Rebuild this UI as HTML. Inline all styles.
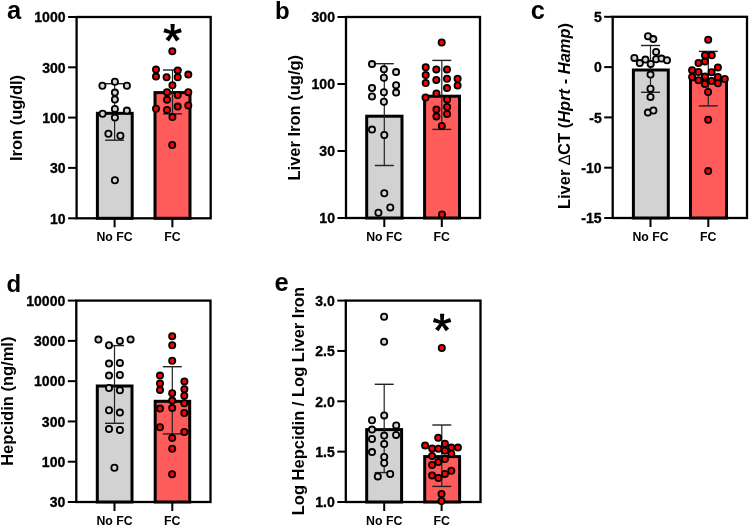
<!DOCTYPE html>
<html><head><meta charset="utf-8"><style>
html,body{margin:0;padding:0;background:#fff;}
body{width:749px;height:526px;overflow:hidden;}
svg{display:block;will-change:transform;}
text{font-family:"Liberation Sans", sans-serif;font-weight:bold;fill:#000;}
.tk{font-size:15.3px;stroke:#000;stroke-width:0.35px;}
.xl{font-size:12.3px;}
.ti{font-size:16.5px;}
.pl{font-size:24px;}
</style></head><body>
<svg width="749" height="526" viewBox="0 0 749 526">
<text x="7" y="19.3" class="pl" style="font-size:25.5px">a</text>
<rect x="76.6" y="17" width="134.1" height="201.3" fill="none" stroke="#000" stroke-width="2.3"/>
<line x1="68.1" y1="17" x2="76.6" y2="17" stroke="#000" stroke-width="2"/>
<text transform="translate(65.6,22.3) scale(0.92,1)" text-anchor="end" class="tk">1000</text>
<line x1="68.1" y1="67.3" x2="76.6" y2="67.3" stroke="#000" stroke-width="2"/>
<text transform="translate(65.6,72.6) scale(0.92,1)" text-anchor="end" class="tk">300</text>
<line x1="68.1" y1="117.6" x2="76.6" y2="117.6" stroke="#000" stroke-width="2"/>
<text transform="translate(65.6,122.89999999999999) scale(0.92,1)" text-anchor="end" class="tk">100</text>
<line x1="68.1" y1="167.9" x2="76.6" y2="167.9" stroke="#000" stroke-width="2"/>
<text transform="translate(65.6,173.20000000000002) scale(0.92,1)" text-anchor="end" class="tk">30</text>
<line x1="68.1" y1="218.3" x2="76.6" y2="218.3" stroke="#000" stroke-width="2"/>
<text transform="translate(65.6,223.60000000000002) scale(0.92,1)" text-anchor="end" class="tk">10</text>
<line x1="114.6" y1="218.3" x2="114.6" y2="227.3" stroke="#000" stroke-width="2"/>
<text x="114.6" y="240.8" text-anchor="middle" class="xl">No FC</text>
<line x1="172.4" y1="218.3" x2="172.4" y2="227.3" stroke="#000" stroke-width="2"/>
<text x="172.4" y="240.8" text-anchor="middle" class="xl">FC</text>
<text transform="translate(22.1,118) rotate(-90)" text-anchor="middle" class="ti">Iron (ug/dl)</text>
<rect x="97.4" y="113.3" width="34.79999999999998" height="105.00000000000001" fill="#d2d2d2" stroke="#000" stroke-width="3"/>
<rect x="155" y="92.6" width="35" height="125.70000000000002" fill="#ff5b5b" stroke="#000" stroke-width="3"/>
<line x1="114.6" y1="83.7" x2="114.6" y2="140.2" stroke="#222" stroke-width="1.2"/>
<line x1="105.1" y1="83.7" x2="124.1" y2="83.7" stroke="#222" stroke-width="1.4"/>
<line x1="105.1" y1="140.2" x2="124.1" y2="140.2" stroke="#222" stroke-width="1.4"/>
<line x1="172.5" y1="70" x2="172.5" y2="113.9" stroke="#222" stroke-width="1.2"/>
<line x1="163.0" y1="70" x2="182.0" y2="70" stroke="#222" stroke-width="1.4"/>
<line x1="163.0" y1="113.9" x2="182.0" y2="113.9" stroke="#222" stroke-width="1.4"/>
<circle cx="114.9" cy="81.7" r="3.1" fill="#d4d4d4" stroke="#000" stroke-width="1.8"/>
<circle cx="102.4" cy="85.7" r="3.1" fill="#d4d4d4" stroke="#000" stroke-width="1.8"/>
<circle cx="126.9" cy="85.7" r="3.1" fill="#d4d4d4" stroke="#000" stroke-width="1.8"/>
<circle cx="114.9" cy="92.6" r="3.1" fill="#d4d4d4" stroke="#000" stroke-width="1.8"/>
<circle cx="114.9" cy="99.5" r="3.1" fill="#d4d4d4" stroke="#000" stroke-width="1.8"/>
<circle cx="114.9" cy="108.9" r="3.1" fill="#d4d4d4" stroke="#000" stroke-width="1.8"/>
<circle cx="102.6" cy="113.7" r="3.1" fill="#d4d4d4" stroke="#000" stroke-width="1.8"/>
<circle cx="126.9" cy="110.6" r="3.1" fill="#d4d4d4" stroke="#000" stroke-width="1.8"/>
<circle cx="114.9" cy="117.6" r="3.1" fill="#d4d4d4" stroke="#000" stroke-width="1.8"/>
<circle cx="108.4" cy="133.8" r="3.1" fill="#d4d4d4" stroke="#000" stroke-width="1.8"/>
<circle cx="120.4" cy="135.8" r="3.1" fill="#d4d4d4" stroke="#000" stroke-width="1.8"/>
<circle cx="114.9" cy="180.2" r="3.1" fill="#d4d4d4" stroke="#000" stroke-width="1.8"/>
<circle cx="172.3" cy="51.2" r="3.1" fill="#ff0000" stroke="#000" stroke-width="1.8"/>
<circle cx="156" cy="69.6" r="3.1" fill="#ff0000" stroke="#000" stroke-width="1.8"/>
<circle cx="156" cy="76.6" r="3.1" fill="#ff0000" stroke="#000" stroke-width="1.8"/>
<circle cx="166.6" cy="77.3" r="3.1" fill="#ff0000" stroke="#000" stroke-width="1.8"/>
<circle cx="177.7" cy="70.4" r="3.1" fill="#ff0000" stroke="#000" stroke-width="1.8"/>
<circle cx="177.7" cy="77.3" r="3.1" fill="#ff0000" stroke="#000" stroke-width="1.8"/>
<circle cx="188.3" cy="74.6" r="3.1" fill="#ff0000" stroke="#000" stroke-width="1.8"/>
<circle cx="172.4" cy="85.3" r="3.1" fill="#ff0000" stroke="#000" stroke-width="1.8"/>
<circle cx="167" cy="92.2" r="3.1" fill="#ff0000" stroke="#000" stroke-width="1.8"/>
<circle cx="177.7" cy="94.9" r="3.1" fill="#ff0000" stroke="#000" stroke-width="1.8"/>
<circle cx="188.3" cy="92.2" r="3.1" fill="#ff0000" stroke="#000" stroke-width="1.8"/>
<circle cx="167" cy="99.7" r="3.1" fill="#ff0000" stroke="#000" stroke-width="1.8"/>
<circle cx="156" cy="108.8" r="3.1" fill="#ff0000" stroke="#000" stroke-width="1.8"/>
<circle cx="167" cy="109.9" r="3.1" fill="#ff0000" stroke="#000" stroke-width="1.8"/>
<circle cx="177.7" cy="106.6" r="3.1" fill="#ff0000" stroke="#000" stroke-width="1.8"/>
<circle cx="188.3" cy="105.5" r="3.1" fill="#ff0000" stroke="#000" stroke-width="1.8"/>
<circle cx="172.4" cy="117" r="3.1" fill="#ff0000" stroke="#000" stroke-width="1.8"/>
<circle cx="172.2" cy="144.9" r="3.1" fill="#ff0000" stroke="#000" stroke-width="1.8"/>
<g transform="translate(172.6,33.0)" fill="#000"><polygon points="-1.5,0 -2.15,-9.0 2.15,-9.0 1.5,0" transform="rotate(0)"/><polygon points="-1.5,0 -2.15,-9.0 2.15,-9.0 1.5,0" transform="rotate(72)"/><polygon points="-1.5,0 -2.15,-9.0 2.15,-9.0 1.5,0" transform="rotate(144)"/><polygon points="-1.5,0 -2.15,-9.0 2.15,-9.0 1.5,0" transform="rotate(216)"/><polygon points="-1.5,0 -2.15,-9.0 2.15,-9.0 1.5,0" transform="rotate(288)"/><circle r="2.2"/></g>
<text x="275" y="19" class="pl" style="font-size:24px">b</text>
<rect x="346" y="17" width="134" height="201" fill="none" stroke="#000" stroke-width="2.3"/>
<line x1="337.5" y1="17" x2="346" y2="17" stroke="#000" stroke-width="2"/>
<text transform="translate(335,22.3) scale(0.92,1)" text-anchor="end" class="tk">300</text>
<line x1="337.5" y1="84" x2="346" y2="84" stroke="#000" stroke-width="2"/>
<text transform="translate(335,89.3) scale(0.92,1)" text-anchor="end" class="tk">100</text>
<line x1="337.5" y1="151" x2="346" y2="151" stroke="#000" stroke-width="2"/>
<text transform="translate(335,156.3) scale(0.92,1)" text-anchor="end" class="tk">30</text>
<line x1="337.5" y1="218" x2="346" y2="218" stroke="#000" stroke-width="2"/>
<text transform="translate(335,223.3) scale(0.92,1)" text-anchor="end" class="tk">10</text>
<line x1="384.3" y1="218" x2="384.3" y2="227" stroke="#000" stroke-width="2"/>
<text x="384.3" y="240.5" text-anchor="middle" class="xl">No FC</text>
<line x1="441.8" y1="218" x2="441.8" y2="227" stroke="#000" stroke-width="2"/>
<text x="441.8" y="240.5" text-anchor="middle" class="xl">FC</text>
<text transform="translate(300,117.7) rotate(-90)" text-anchor="middle" class="ti">Liver Iron (ug/g)</text>
<rect x="366.7" y="116.2" width="35.30000000000001" height="101.8" fill="#d2d2d2" stroke="#000" stroke-width="3"/>
<rect x="424.6" y="96.2" width="34.89999999999998" height="121.8" fill="#ff5b5b" stroke="#000" stroke-width="3"/>
<line x1="384.3" y1="63.7" x2="384.3" y2="165.5" stroke="#222" stroke-width="1.2"/>
<line x1="374.8" y1="63.7" x2="393.8" y2="63.7" stroke="#222" stroke-width="1.4"/>
<line x1="374.8" y1="165.5" x2="393.8" y2="165.5" stroke="#222" stroke-width="1.4"/>
<line x1="441.8" y1="60.4" x2="441.8" y2="129.4" stroke="#222" stroke-width="1.2"/>
<line x1="432.3" y1="60.4" x2="451.3" y2="60.4" stroke="#222" stroke-width="1.4"/>
<line x1="432.3" y1="129.4" x2="451.3" y2="129.4" stroke="#222" stroke-width="1.4"/>
<circle cx="372" cy="64.1" r="3.1" fill="#d4d4d4" stroke="#000" stroke-width="1.8"/>
<circle cx="383.9" cy="69.3" r="3.1" fill="#d4d4d4" stroke="#000" stroke-width="1.8"/>
<circle cx="383.9" cy="77.7" r="3.1" fill="#d4d4d4" stroke="#000" stroke-width="1.8"/>
<circle cx="396.1" cy="72.1" r="3.1" fill="#d4d4d4" stroke="#000" stroke-width="1.8"/>
<circle cx="372" cy="88" r="3.1" fill="#d4d4d4" stroke="#000" stroke-width="1.8"/>
<circle cx="372" cy="96.4" r="3.1" fill="#d4d4d4" stroke="#000" stroke-width="1.8"/>
<circle cx="383.9" cy="92.3" r="3.1" fill="#d4d4d4" stroke="#000" stroke-width="1.8"/>
<circle cx="396.1" cy="85.3" r="3.1" fill="#d4d4d4" stroke="#000" stroke-width="1.8"/>
<circle cx="396.1" cy="92.6" r="3.1" fill="#d4d4d4" stroke="#000" stroke-width="1.8"/>
<circle cx="383.9" cy="101.7" r="3.1" fill="#d4d4d4" stroke="#000" stroke-width="1.8"/>
<circle cx="372" cy="129.6" r="3.1" fill="#d4d4d4" stroke="#000" stroke-width="1.8"/>
<circle cx="384.3" cy="135" r="3.1" fill="#d4d4d4" stroke="#000" stroke-width="1.8"/>
<circle cx="384.3" cy="193.3" r="3.1" fill="#d4d4d4" stroke="#000" stroke-width="1.8"/>
<circle cx="390.3" cy="207.4" r="3.1" fill="#d4d4d4" stroke="#000" stroke-width="1.8"/>
<circle cx="378.4" cy="212.8" r="3.1" fill="#d4d4d4" stroke="#000" stroke-width="1.8"/>
<circle cx="441.7" cy="42.5" r="3.1" fill="#ff0000" stroke="#000" stroke-width="1.8"/>
<circle cx="425.7" cy="67.3" r="3.1" fill="#ff0000" stroke="#000" stroke-width="1.8"/>
<circle cx="425.7" cy="74.9" r="3.1" fill="#ff0000" stroke="#000" stroke-width="1.8"/>
<circle cx="425.7" cy="82.9" r="3.1" fill="#ff0000" stroke="#000" stroke-width="1.8"/>
<circle cx="436.3" cy="69.5" r="3.1" fill="#ff0000" stroke="#000" stroke-width="1.8"/>
<circle cx="436.3" cy="79.9" r="3.1" fill="#ff0000" stroke="#000" stroke-width="1.8"/>
<circle cx="447" cy="69.5" r="3.1" fill="#ff0000" stroke="#000" stroke-width="1.8"/>
<circle cx="447" cy="78.7" r="3.1" fill="#ff0000" stroke="#000" stroke-width="1.8"/>
<circle cx="447" cy="88.1" r="3.1" fill="#ff0000" stroke="#000" stroke-width="1.8"/>
<circle cx="457.6" cy="78.7" r="3.1" fill="#ff0000" stroke="#000" stroke-width="1.8"/>
<circle cx="457.6" cy="85.5" r="3.1" fill="#ff0000" stroke="#000" stroke-width="1.8"/>
<circle cx="436.4" cy="93.4" r="3.1" fill="#ff0000" stroke="#000" stroke-width="1.8"/>
<circle cx="425.5" cy="97.5" r="3.1" fill="#ff0000" stroke="#000" stroke-width="1.8"/>
<circle cx="447.1" cy="99.4" r="3.1" fill="#ff0000" stroke="#000" stroke-width="1.8"/>
<circle cx="447.1" cy="107" r="3.1" fill="#ff0000" stroke="#000" stroke-width="1.8"/>
<circle cx="436.4" cy="109.5" r="3.1" fill="#ff0000" stroke="#000" stroke-width="1.8"/>
<circle cx="447.1" cy="113.9" r="3.1" fill="#ff0000" stroke="#000" stroke-width="1.8"/>
<circle cx="436.4" cy="116.4" r="3.1" fill="#ff0000" stroke="#000" stroke-width="1.8"/>
<circle cx="441.8" cy="125.9" r="3.1" fill="#ff0000" stroke="#000" stroke-width="1.8"/>
<circle cx="442" cy="214.5" r="3.1" fill="#ff0000" stroke="#000" stroke-width="1.8"/>
<text x="530.8" y="19.3" class="pl" style="font-size:25.5px">c</text>
<rect x="612.7" y="16.8" width="134.29999999999995" height="201.2" fill="none" stroke="#000" stroke-width="2.3"/>
<line x1="604.2" y1="16.8" x2="612.7" y2="16.8" stroke="#000" stroke-width="2"/>
<text transform="translate(601.7,22.1) scale(0.92,1)" text-anchor="end" class="tk">5</text>
<line x1="604.2" y1="67.1" x2="612.7" y2="67.1" stroke="#000" stroke-width="2"/>
<text transform="translate(601.7,72.39999999999999) scale(0.92,1)" text-anchor="end" class="tk">0</text>
<line x1="604.2" y1="117.4" x2="612.7" y2="117.4" stroke="#000" stroke-width="2"/>
<text transform="translate(601.7,122.7) scale(0.92,1)" text-anchor="end" class="tk">-5</text>
<line x1="604.2" y1="167.7" x2="612.7" y2="167.7" stroke="#000" stroke-width="2"/>
<text transform="translate(601.7,173.0) scale(0.92,1)" text-anchor="end" class="tk">-10</text>
<line x1="604.2" y1="218" x2="612.7" y2="218" stroke="#000" stroke-width="2"/>
<text transform="translate(601.7,223.3) scale(0.92,1)" text-anchor="end" class="tk">-15</text>
<line x1="650.5" y1="218" x2="650.5" y2="227" stroke="#000" stroke-width="2"/>
<text x="650.5" y="240.5" text-anchor="middle" class="xl">No FC</text>
<line x1="708.3" y1="218" x2="708.3" y2="227" stroke="#000" stroke-width="2"/>
<text x="708.3" y="240.5" text-anchor="middle" class="xl">FC</text>
<text transform="translate(570.1,116) rotate(-90)" text-anchor="middle" class="ti">Liver <tspan font-weight="normal">&#8710;</tspan>CT (<tspan font-style="italic">Hprt</tspan> - <tspan font-style="italic">Hamp</tspan>)</text>
<rect x="633.4" y="70" width="34.89999999999998" height="148" fill="#d2d2d2" stroke="#000" stroke-width="3"/>
<rect x="690.5" y="79.7" width="36.0" height="138.3" fill="#ff5b5b" stroke="#000" stroke-width="3"/>
<line x1="650.5" y1="45.5" x2="650.5" y2="92.3" stroke="#222" stroke-width="1.2"/>
<line x1="641.0" y1="45.5" x2="660.0" y2="45.5" stroke="#222" stroke-width="1.4"/>
<line x1="641.0" y1="92.3" x2="660.0" y2="92.3" stroke="#222" stroke-width="1.4"/>
<line x1="708.3" y1="51.4" x2="708.3" y2="105.9" stroke="#222" stroke-width="1.2"/>
<line x1="698.8" y1="51.4" x2="717.8" y2="51.4" stroke="#222" stroke-width="1.4"/>
<line x1="698.8" y1="105.9" x2="717.8" y2="105.9" stroke="#222" stroke-width="1.4"/>
<circle cx="648" cy="36.3" r="3.1" fill="#d4d4d4" stroke="#000" stroke-width="1.8"/>
<circle cx="653.3" cy="39.1" r="3.1" fill="#d4d4d4" stroke="#000" stroke-width="1.8"/>
<circle cx="656.1" cy="51.9" r="3.1" fill="#d4d4d4" stroke="#000" stroke-width="1.8"/>
<circle cx="634.4" cy="57.9" r="3.1" fill="#d4d4d4" stroke="#000" stroke-width="1.8"/>
<circle cx="639.8" cy="63.1" r="3.1" fill="#d4d4d4" stroke="#000" stroke-width="1.8"/>
<circle cx="645.4" cy="59.6" r="3.1" fill="#d4d4d4" stroke="#000" stroke-width="1.8"/>
<circle cx="650.7" cy="63.9" r="3.1" fill="#d4d4d4" stroke="#000" stroke-width="1.8"/>
<circle cx="656.1" cy="59.2" r="3.1" fill="#d4d4d4" stroke="#000" stroke-width="1.8"/>
<circle cx="661.5" cy="58.6" r="3.1" fill="#d4d4d4" stroke="#000" stroke-width="1.8"/>
<circle cx="667" cy="60.3" r="3.1" fill="#d4d4d4" stroke="#000" stroke-width="1.8"/>
<circle cx="650.5" cy="74.6" r="3.1" fill="#d4d4d4" stroke="#000" stroke-width="1.8"/>
<circle cx="650.5" cy="88.8" r="3.1" fill="#d4d4d4" stroke="#000" stroke-width="1.8"/>
<circle cx="650.5" cy="96.9" r="3.1" fill="#d4d4d4" stroke="#000" stroke-width="1.8"/>
<circle cx="647.9" cy="112.6" r="3.1" fill="#d4d4d4" stroke="#000" stroke-width="1.8"/>
<circle cx="653.4" cy="110.5" r="3.1" fill="#d4d4d4" stroke="#000" stroke-width="1.8"/>
<circle cx="708.2" cy="39.7" r="3.1" fill="#ff0000" stroke="#000" stroke-width="1.8"/>
<circle cx="705" cy="55.3" r="3.1" fill="#ff0000" stroke="#000" stroke-width="1.8"/>
<circle cx="711.8" cy="55.3" r="3.1" fill="#ff0000" stroke="#000" stroke-width="1.8"/>
<circle cx="698.5" cy="62.9" r="3.1" fill="#ff0000" stroke="#000" stroke-width="1.8"/>
<circle cx="704.9" cy="61.6" r="3.1" fill="#ff0000" stroke="#000" stroke-width="1.8"/>
<circle cx="717.9" cy="67.4" r="3.1" fill="#ff0000" stroke="#000" stroke-width="1.8"/>
<circle cx="692.1" cy="70.3" r="3.1" fill="#ff0000" stroke="#000" stroke-width="1.8"/>
<circle cx="698.5" cy="72" r="3.1" fill="#ff0000" stroke="#000" stroke-width="1.8"/>
<circle cx="711.6" cy="72.2" r="3.1" fill="#ff0000" stroke="#000" stroke-width="1.8"/>
<circle cx="692.1" cy="77" r="3.1" fill="#ff0000" stroke="#000" stroke-width="1.8"/>
<circle cx="704.9" cy="76.6" r="3.1" fill="#ff0000" stroke="#000" stroke-width="1.8"/>
<circle cx="717.9" cy="77" r="3.1" fill="#ff0000" stroke="#000" stroke-width="1.8"/>
<circle cx="724.8" cy="79" r="3.1" fill="#ff0000" stroke="#000" stroke-width="1.8"/>
<circle cx="698.5" cy="80.3" r="3.1" fill="#ff0000" stroke="#000" stroke-width="1.8"/>
<circle cx="711.6" cy="80.9" r="3.1" fill="#ff0000" stroke="#000" stroke-width="1.8"/>
<circle cx="704.9" cy="84" r="3.1" fill="#ff0000" stroke="#000" stroke-width="1.8"/>
<circle cx="717.9" cy="83.3" r="3.1" fill="#ff0000" stroke="#000" stroke-width="1.8"/>
<circle cx="708.1" cy="92" r="3.1" fill="#ff0000" stroke="#000" stroke-width="1.8"/>
<circle cx="708.2" cy="119.8" r="3.1" fill="#ff0000" stroke="#000" stroke-width="1.8"/>
<circle cx="708.2" cy="171.1" r="3.1" fill="#ff0000" stroke="#000" stroke-width="1.8"/>
<text x="6.5" y="291.5" class="pl" style="font-size:24px">d</text>
<rect x="76.3" y="300.6" width="134.2" height="201.39999999999998" fill="none" stroke="#000" stroke-width="2.3"/>
<line x1="67.8" y1="300.6" x2="76.3" y2="300.6" stroke="#000" stroke-width="2"/>
<text transform="translate(65.3,305.90000000000003) scale(0.92,1)" text-anchor="end" class="tk">10000</text>
<line x1="67.8" y1="340.88" x2="76.3" y2="340.88" stroke="#000" stroke-width="2"/>
<text transform="translate(65.3,346.18) scale(0.92,1)" text-anchor="end" class="tk">3000</text>
<line x1="67.8" y1="381.16" x2="76.3" y2="381.16" stroke="#000" stroke-width="2"/>
<text transform="translate(65.3,386.46000000000004) scale(0.92,1)" text-anchor="end" class="tk">1000</text>
<line x1="67.8" y1="421.44000000000005" x2="76.3" y2="421.44000000000005" stroke="#000" stroke-width="2"/>
<text transform="translate(65.3,426.74000000000007) scale(0.92,1)" text-anchor="end" class="tk">300</text>
<line x1="67.8" y1="461.72" x2="76.3" y2="461.72" stroke="#000" stroke-width="2"/>
<text transform="translate(65.3,467.02000000000004) scale(0.92,1)" text-anchor="end" class="tk">100</text>
<line x1="67.8" y1="502.0" x2="76.3" y2="502.0" stroke="#000" stroke-width="2"/>
<text transform="translate(65.3,507.3) scale(0.92,1)" text-anchor="end" class="tk">30</text>
<line x1="114.5" y1="502" x2="114.5" y2="511" stroke="#000" stroke-width="2"/>
<text x="114.5" y="524.5" text-anchor="middle" class="xl">No FC</text>
<line x1="172.3" y1="502" x2="172.3" y2="511" stroke="#000" stroke-width="2"/>
<text x="172.3" y="524.5" text-anchor="middle" class="xl">FC</text>
<text transform="translate(13.3,401.2) rotate(-90)" text-anchor="middle" class="ti">Hepcidin (ng/ml)</text>
<rect x="97.3" y="386" width="34.7" height="116" fill="#d2d2d2" stroke="#000" stroke-width="3"/>
<rect x="155.2" y="401.3" width="34.5" height="100.69999999999999" fill="#ff5b5b" stroke="#000" stroke-width="3"/>
<line x1="114.5" y1="345.6" x2="114.5" y2="423.3" stroke="#222" stroke-width="1.2"/>
<line x1="105.0" y1="345.6" x2="124.0" y2="345.6" stroke="#222" stroke-width="1.4"/>
<line x1="105.0" y1="423.3" x2="124.0" y2="423.3" stroke="#222" stroke-width="1.4"/>
<line x1="172.3" y1="366.7" x2="172.3" y2="433.9" stroke="#222" stroke-width="1.2"/>
<line x1="162.8" y1="366.7" x2="181.8" y2="366.7" stroke="#222" stroke-width="1.4"/>
<line x1="162.8" y1="433.9" x2="181.8" y2="433.9" stroke="#222" stroke-width="1.4"/>
<circle cx="98.4" cy="339.6" r="3.1" fill="#d4d4d4" stroke="#000" stroke-width="1.8"/>
<circle cx="109" cy="345.2" r="3.1" fill="#d4d4d4" stroke="#000" stroke-width="1.8"/>
<circle cx="119.9" cy="341" r="3.1" fill="#d4d4d4" stroke="#000" stroke-width="1.8"/>
<circle cx="130.6" cy="339.4" r="3.1" fill="#d4d4d4" stroke="#000" stroke-width="1.8"/>
<circle cx="109" cy="363.6" r="3.1" fill="#d4d4d4" stroke="#000" stroke-width="1.8"/>
<circle cx="119.9" cy="362.9" r="3.1" fill="#d4d4d4" stroke="#000" stroke-width="1.8"/>
<circle cx="109" cy="375.6" r="3.1" fill="#d4d4d4" stroke="#000" stroke-width="1.8"/>
<circle cx="119.9" cy="374.9" r="3.1" fill="#d4d4d4" stroke="#000" stroke-width="1.8"/>
<circle cx="109" cy="388" r="3.1" fill="#d4d4d4" stroke="#000" stroke-width="1.8"/>
<circle cx="119.9" cy="390.3" r="3.1" fill="#d4d4d4" stroke="#000" stroke-width="1.8"/>
<circle cx="109" cy="410.3" r="3.1" fill="#d4d4d4" stroke="#000" stroke-width="1.8"/>
<circle cx="119.9" cy="412.6" r="3.1" fill="#d4d4d4" stroke="#000" stroke-width="1.8"/>
<circle cx="109" cy="429" r="3.1" fill="#d4d4d4" stroke="#000" stroke-width="1.8"/>
<circle cx="119.9" cy="429.9" r="3.1" fill="#d4d4d4" stroke="#000" stroke-width="1.8"/>
<circle cx="114.4" cy="467.8" r="3.1" fill="#d4d4d4" stroke="#000" stroke-width="1.8"/>
<circle cx="172.2" cy="336.3" r="3.1" fill="#ff0000" stroke="#000" stroke-width="1.8"/>
<circle cx="172.2" cy="345.2" r="3.1" fill="#ff0000" stroke="#000" stroke-width="1.8"/>
<circle cx="172.2" cy="360.7" r="3.1" fill="#ff0000" stroke="#000" stroke-width="1.8"/>
<circle cx="160" cy="375.6" r="3.1" fill="#ff0000" stroke="#000" stroke-width="1.8"/>
<circle cx="160" cy="383.6" r="3.1" fill="#ff0000" stroke="#000" stroke-width="1.8"/>
<circle cx="160" cy="390.1" r="3.1" fill="#ff0000" stroke="#000" stroke-width="1.8"/>
<circle cx="184.4" cy="381.4" r="3.1" fill="#ff0000" stroke="#000" stroke-width="1.8"/>
<circle cx="184.4" cy="389.3" r="3.1" fill="#ff0000" stroke="#000" stroke-width="1.8"/>
<circle cx="184.3" cy="395.7" r="3.1" fill="#ff0000" stroke="#000" stroke-width="1.8"/>
<circle cx="184.3" cy="403.3" r="3.1" fill="#ff0000" stroke="#000" stroke-width="1.8"/>
<circle cx="184.3" cy="413" r="3.1" fill="#ff0000" stroke="#000" stroke-width="1.8"/>
<circle cx="184.3" cy="432" r="3.1" fill="#ff0000" stroke="#000" stroke-width="1.8"/>
<circle cx="172.2" cy="393.2" r="3.1" fill="#ff0000" stroke="#000" stroke-width="1.8"/>
<circle cx="172.2" cy="400.6" r="3.1" fill="#ff0000" stroke="#000" stroke-width="1.8"/>
<circle cx="172.2" cy="407.9" r="3.1" fill="#ff0000" stroke="#000" stroke-width="1.8"/>
<circle cx="160" cy="408.6" r="3.1" fill="#ff0000" stroke="#000" stroke-width="1.8"/>
<circle cx="160" cy="427.2" r="3.1" fill="#ff0000" stroke="#000" stroke-width="1.8"/>
<circle cx="172.2" cy="437.9" r="3.1" fill="#ff0000" stroke="#000" stroke-width="1.8"/>
<circle cx="172.2" cy="448.8" r="3.1" fill="#ff0000" stroke="#000" stroke-width="1.8"/>
<circle cx="172.1" cy="474.2" r="3.1" fill="#ff0000" stroke="#000" stroke-width="1.8"/>
<text x="274.6" y="291.2" class="pl" style="font-size:25.5px">e</text>
<rect x="345.8" y="300.6" width="134.7" height="201.39999999999998" fill="none" stroke="#000" stroke-width="2.3"/>
<line x1="337.3" y1="300.6" x2="345.8" y2="300.6" stroke="#000" stroke-width="2"/>
<text transform="translate(334.8,305.90000000000003) scale(0.92,1)" text-anchor="end" class="tk">3.0</text>
<line x1="337.3" y1="350.95000000000005" x2="345.8" y2="350.95000000000005" stroke="#000" stroke-width="2"/>
<text transform="translate(334.8,356.25000000000006) scale(0.92,1)" text-anchor="end" class="tk">2.5</text>
<line x1="337.3" y1="401.3" x2="345.8" y2="401.3" stroke="#000" stroke-width="2"/>
<text transform="translate(334.8,406.6) scale(0.92,1)" text-anchor="end" class="tk">2.0</text>
<line x1="337.3" y1="451.65000000000003" x2="345.8" y2="451.65000000000003" stroke="#000" stroke-width="2"/>
<text transform="translate(334.8,456.95000000000005) scale(0.92,1)" text-anchor="end" class="tk">1.5</text>
<line x1="337.3" y1="502.0" x2="345.8" y2="502.0" stroke="#000" stroke-width="2"/>
<text transform="translate(334.8,507.3) scale(0.92,1)" text-anchor="end" class="tk">1.0</text>
<line x1="384.2" y1="502" x2="384.2" y2="511" stroke="#000" stroke-width="2"/>
<text x="384.2" y="524.5" text-anchor="middle" class="xl">No FC</text>
<line x1="441.6" y1="502" x2="441.6" y2="511" stroke="#000" stroke-width="2"/>
<text x="441.6" y="524.5" text-anchor="middle" class="xl">FC</text>
<text transform="translate(304.4,401.1) rotate(-90)" text-anchor="middle" class="ti">Log Hepcidin / Log Liver Iron</text>
<rect x="366.7" y="429.6" width="34.900000000000034" height="72.39999999999998" fill="#d2d2d2" stroke="#000" stroke-width="3"/>
<rect x="424.7" y="456.6" width="34.900000000000034" height="45.39999999999998" fill="#ff5b5b" stroke="#000" stroke-width="3"/>
<line x1="384.2" y1="384.3" x2="384.2" y2="472.6" stroke="#222" stroke-width="1.2"/>
<line x1="374.7" y1="384.3" x2="393.7" y2="384.3" stroke="#222" stroke-width="1.4"/>
<line x1="374.7" y1="472.6" x2="393.7" y2="472.6" stroke="#222" stroke-width="1.4"/>
<line x1="441.8" y1="425" x2="441.8" y2="486.4" stroke="#222" stroke-width="1.2"/>
<line x1="432.3" y1="425" x2="451.3" y2="425" stroke="#222" stroke-width="1.4"/>
<line x1="432.3" y1="486.4" x2="451.3" y2="486.4" stroke="#222" stroke-width="1.4"/>
<circle cx="384.1" cy="316.7" r="3.1" fill="#d4d4d4" stroke="#000" stroke-width="1.8"/>
<circle cx="384.1" cy="341.8" r="3.1" fill="#d4d4d4" stroke="#000" stroke-width="1.8"/>
<circle cx="384.2" cy="415.4" r="3.1" fill="#d4d4d4" stroke="#000" stroke-width="1.8"/>
<circle cx="372" cy="420.2" r="3.1" fill="#d4d4d4" stroke="#000" stroke-width="1.8"/>
<circle cx="396.2" cy="425.4" r="3.1" fill="#d4d4d4" stroke="#000" stroke-width="1.8"/>
<circle cx="372" cy="429.6" r="3.1" fill="#d4d4d4" stroke="#000" stroke-width="1.8"/>
<circle cx="384.2" cy="435.6" r="3.1" fill="#d4d4d4" stroke="#000" stroke-width="1.8"/>
<circle cx="396.1" cy="434.9" r="3.1" fill="#d4d4d4" stroke="#000" stroke-width="1.8"/>
<circle cx="372" cy="439" r="3.1" fill="#d4d4d4" stroke="#000" stroke-width="1.8"/>
<circle cx="384.2" cy="444" r="3.1" fill="#d4d4d4" stroke="#000" stroke-width="1.8"/>
<circle cx="372" cy="452.1" r="3.1" fill="#d4d4d4" stroke="#000" stroke-width="1.8"/>
<circle cx="384.2" cy="456.9" r="3.1" fill="#d4d4d4" stroke="#000" stroke-width="1.8"/>
<circle cx="384.2" cy="463" r="3.1" fill="#d4d4d4" stroke="#000" stroke-width="1.8"/>
<circle cx="377.8" cy="476.4" r="3.1" fill="#d4d4d4" stroke="#000" stroke-width="1.8"/>
<circle cx="390.2" cy="474" r="3.1" fill="#d4d4d4" stroke="#000" stroke-width="1.8"/>
<circle cx="441.8" cy="347.9" r="3.1" fill="#ff0000" stroke="#000" stroke-width="1.8"/>
<circle cx="438.2" cy="437.8" r="3.1" fill="#ff0000" stroke="#000" stroke-width="1.8"/>
<circle cx="444.9" cy="443.8" r="3.1" fill="#ff0000" stroke="#000" stroke-width="1.8"/>
<circle cx="425.1" cy="445.4" r="3.1" fill="#ff0000" stroke="#000" stroke-width="1.8"/>
<circle cx="432.1" cy="448.5" r="3.1" fill="#ff0000" stroke="#000" stroke-width="1.8"/>
<circle cx="438.4" cy="448.8" r="3.1" fill="#ff0000" stroke="#000" stroke-width="1.8"/>
<circle cx="444.9" cy="450.7" r="3.1" fill="#ff0000" stroke="#000" stroke-width="1.8"/>
<circle cx="451.3" cy="447.6" r="3.1" fill="#ff0000" stroke="#000" stroke-width="1.8"/>
<circle cx="457.9" cy="447.6" r="3.1" fill="#ff0000" stroke="#000" stroke-width="1.8"/>
<circle cx="451.3" cy="453.8" r="3.1" fill="#ff0000" stroke="#000" stroke-width="1.8"/>
<circle cx="432.1" cy="455.9" r="3.1" fill="#ff0000" stroke="#000" stroke-width="1.8"/>
<circle cx="444.9" cy="459" r="3.1" fill="#ff0000" stroke="#000" stroke-width="1.8"/>
<circle cx="438.4" cy="462.1" r="3.1" fill="#ff0000" stroke="#000" stroke-width="1.8"/>
<circle cx="432.1" cy="465" r="3.1" fill="#ff0000" stroke="#000" stroke-width="1.8"/>
<circle cx="444.9" cy="473.9" r="3.1" fill="#ff0000" stroke="#000" stroke-width="1.8"/>
<circle cx="451.3" cy="470.7" r="3.1" fill="#ff0000" stroke="#000" stroke-width="1.8"/>
<circle cx="432.1" cy="475.4" r="3.1" fill="#ff0000" stroke="#000" stroke-width="1.8"/>
<circle cx="438.4" cy="478" r="3.1" fill="#ff0000" stroke="#000" stroke-width="1.8"/>
<circle cx="441.5" cy="494" r="3.1" fill="#ff0000" stroke="#000" stroke-width="1.8"/>
<circle cx="441.5" cy="501" r="3.1" fill="#ff0000" stroke="#000" stroke-width="1.8"/>
<g transform="translate(442.1,322.8)" fill="#000"><polygon points="-1.5,0 -2.15,-9.0 2.15,-9.0 1.5,0" transform="rotate(0)"/><polygon points="-1.5,0 -2.15,-9.0 2.15,-9.0 1.5,0" transform="rotate(72)"/><polygon points="-1.5,0 -2.15,-9.0 2.15,-9.0 1.5,0" transform="rotate(144)"/><polygon points="-1.5,0 -2.15,-9.0 2.15,-9.0 1.5,0" transform="rotate(216)"/><polygon points="-1.5,0 -2.15,-9.0 2.15,-9.0 1.5,0" transform="rotate(288)"/><circle r="2.2"/></g>
</svg>
</body></html>
